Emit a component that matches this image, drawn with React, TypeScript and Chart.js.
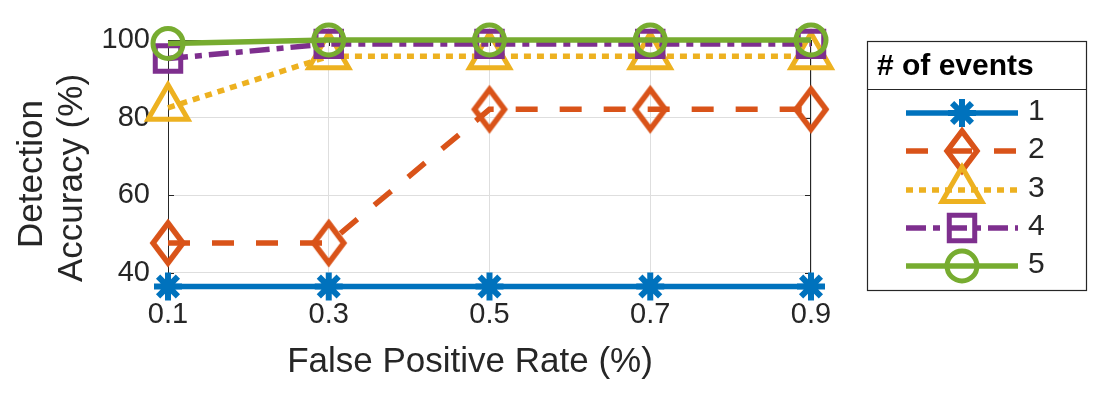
import React, { useEffect, useRef } from 'react';
import { Chart, registerables } from 'chart.js';
import { drawPoint } from 'chart.js/helpers';

Chart.register(...registerables);

const xValues = [0.1, 0.3, 0.5, 0.7, 0.9];
const xTickLabels = ['0.1', '0.3', '0.5', '0.7', '0.9'];
const yTicks = [40, 60, 80, 100];
const seriesLabels = ['1', '2', '3', '4', '5'];
const series1 = [36.4, 36.4, 36.4, 36.4, 36.4];
const series2 = [47.6, 47.6, 82.1, 82.1, 82.1];
const series3 = [82.5, 95.8, 95.8, 95.8, 95.8];
const series4 = [95.2, 99.0, 99.0, 99.0, 99.0];
const series5 = [99.1, 100, 100, 100, 100];

const xTitle = 'False Positive Rate (%)';
const yTitleLines = ['Detection', 'Accuracy (%)'];
const legendTitle = '# of events';

const FONT = '"Liberation Sans", Arial, Helvetica, sans-serif';
const TEXT = '#262626';

function makeDiamond(color: string): HTMLCanvasElement {
  const c = document.createElement('canvas');
  c.width = 42;
  c.height = 58;
  const g = c.getContext('2d')!;
  g.strokeStyle = color;
  g.lineWidth = 5.5;
  g.lineJoin = 'miter';
  g.beginPath();
  g.moveTo(21, 9);
  g.lineTo(36, 29);
  g.lineTo(21, 49);
  g.lineTo(6, 29);
  g.closePath();
  g.stroke();
  return c;
}

export default function App() {
  const ref = useRef<HTMLCanvasElement>(null);

  useEffect(() => {
    if (!ref.current) return;
    const colors = ['#0072BD', '#D95319', '#EDB120', '#7E2F8E', '#77AC30'];
    const values = [series1, series2, series3, series4, series5];
    const dashes = [[], [22, 22], [7, 6], [20, 7, 7, 7], []];
    const styles: any[] = ['star', makeDiamond(colors[1]), 'triangle', 'rect', 'circle'];
    const radii = [14, 20, 23, 18, 15];
    const pbw = [6, 5.5, 5, 5, 5];

    const datasets = values.map((vals, i) => ({
      label: seriesLabels[i],
      data: vals.map((y, j) => ({ x: xValues[j], y })),
      borderColor: colors[i],
      backgroundColor: 'rgba(0,0,0,0)',
      borderWidth: 5.5,
      borderDash: dashes[i],
      pointStyle: styles[i],
      pointRadius: radii[i],
      pointBorderWidth: pbw[i],
      pointBorderColor: colors[i],
      pointBackgroundColor: 'rgba(0,0,0,0)',
      tension: 0,
      clip: false as any,
      order: 5 - i,
    }));

    const plugin = {
      id: 'matlabLook',
      beforeDatasetsDraw(chart: any) {
        const { ctx, chartArea: a, scales } = chart;
        ctx.save();
        ctx.strokeStyle = TEXT;
        ctx.lineWidth = 1;
        ctx.setLineDash([]);
        ctx.strokeRect(a.left + 0.5, a.top + 0.5, a.right - a.left - 1, a.bottom - a.top);
        ctx.beginPath();
        for (const v of yTicks) {
          const y = Math.round(scales.y.getPixelForValue(v)) + 0.5;
          ctx.moveTo(a.left, y);
          ctx.lineTo(a.left + 6, y);
          ctx.moveTo(a.right - 6, y);
          ctx.lineTo(a.right, y);
        }
        for (const v of xValues) {
          const x = Math.round(scales.x.getPixelForValue(v)) + 0.5;
          ctx.moveTo(x, a.top);
          ctx.lineTo(x, a.top + 6);
          ctx.moveTo(x, a.bottom);
          ctx.lineTo(x, a.bottom - 6);
        }
        ctx.stroke();
        ctx.restore();
      },
      afterDraw(chart: any) {
        const { ctx } = chart;
        ctx.save();
        ctx.fillStyle = TEXT;
        ctx.font = `35px ${FONT}`;
        ctx.textAlign = 'center';
        ctx.textBaseline = 'alphabetic';
        ctx.fillText(xTitle, 470, 372);
        const ys = [[42, 174], [82, 178]];
        yTitleLines.forEach((t, i) => {
          ctx.save();
          ctx.translate(ys[i][0], ys[i][1]);
          ctx.rotate(-Math.PI / 2);
          ctx.fillText(t, 0, 0);
          ctx.restore();
        });

        // legend
        const L = 867, T = 41, R = 1086, B = 290;
        ctx.fillStyle = '#ffffff';
        ctx.fillRect(L, T, R - L, B - T);
        ctx.strokeStyle = TEXT;
        ctx.lineWidth = 1.2;
        ctx.setLineDash([]);
        ctx.strokeRect(L + 0.5, T + 0.5, R - L, B - T);
        ctx.beginPath();
        ctx.moveTo(L, 89.5);
        ctx.lineTo(R, 89.5);
        ctx.stroke();
        ctx.fillStyle = '#000000';
        ctx.font = `bold 30px ${FONT}`;
        ctx.textAlign = 'left';
        ctx.fillText(legendTitle, 877, 75);

        const rowY = [113, 151, 190, 228, 266];
        chart.data.datasets.forEach((ds: any, i: number) => {
          const y = rowY[i];
          ctx.save();
          ctx.strokeStyle = ds.borderColor;
          ctx.lineWidth = ds.borderWidth;
          ctx.setLineDash(ds.borderDash);
          ctx.beginPath();
          ctx.moveTo(906, y);
          ctx.lineTo(1018, y);
          ctx.stroke();
          ctx.restore();
          ctx.save();
          ctx.setLineDash([]);
          ctx.strokeStyle = ds.pointBorderColor;
          ctx.fillStyle = 'rgba(0,0,0,0)';
          ctx.lineWidth = ds.pointBorderWidth;
          drawPoint(ctx, { pointStyle: ds.pointStyle, radius: ds.pointRadius, rotation: 0, borderWidth: ds.pointBorderWidth } as any, 962, y);
          ctx.restore();
          ctx.fillStyle = TEXT;
          ctx.font = `30px ${FONT}`;
          ctx.textBaseline = 'middle';
          ctx.textAlign = 'left';
          ctx.fillText(ds.label, 1028, y - 1);
        });
        ctx.restore();
      },
    };

    const chart = new Chart(ref.current, {
      type: 'line',
      data: { datasets: datasets as any },
      options: {
        animation: false,
        responsive: false,
        events: [],
        layout: { padding: { top: 40, right: 294, left: 0, bottom: 0 } },
        plugins: { legend: { display: false }, tooltip: { enabled: false } },
        scales: {
          x: {
            type: 'linear',
            min: 0.1,
            max: 0.9,
            afterBuildTicks: (s: any) => {
              s.ticks = xValues.map((v) => ({ value: v }));
            },
            afterFit: (s: any) => {
              s.height = 105;
            },
            ticks: {
              autoSkip: false,
              maxRotation: 0,
              padding: 10,
              color: TEXT,
              font: { size: 29, family: FONT },
              callback: (value: any) => {
                const i = xValues.findIndex((v) => Math.abs(v - Number(value)) < 1e-9);
                return i >= 0 ? xTickLabels[i] : '';
              },
            },
            grid: { color: '#dedede', lineWidth: 1, drawTicks: false },
            border: { display: false },
          },
          y: {
            type: 'linear',
            min: 36,
            max: 100,
            afterBuildTicks: (s: any) => {
              s.ticks = yTicks.map((v) => ({ value: v }));
            },
            afterFit: (s: any) => {
              s.width = 168;
            },
            ticks: {
              autoSkip: false,
              padding: 18,
              color: TEXT,
              font: { size: 29, family: FONT },
              callback: (value: any) => String(value),
            },
            grid: { color: '#dedede', lineWidth: 1, drawTicks: false },
            border: { display: false },
          },
        },
      },
      plugins: [plugin],
    });
    return () => chart.destroy();
  }, []);

  return (
    <div style={{ position: 'absolute', left: 0, top: 0, width: 1105, height: 393, background: '#fff' }}>
      <canvas ref={ref} width={1105} height={393} style={{ width: 1105, height: 393, display: 'block' }} />
    </div>
  );
}
